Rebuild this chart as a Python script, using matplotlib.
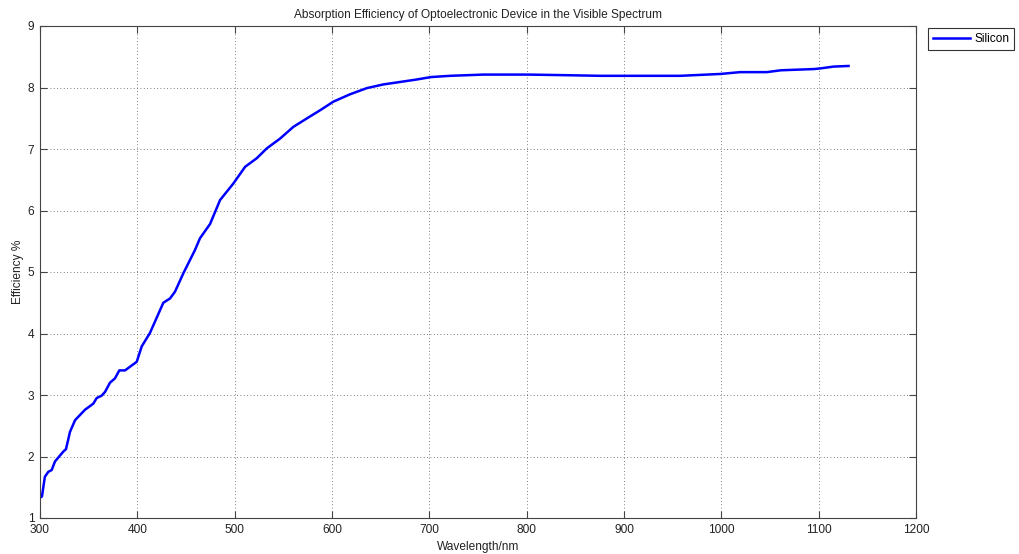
import numpy as np
import matplotlib.pyplot as plt

# values
wavelength = [300, 302, 305, 308.5, 312, 315.4, 324, 326.7, 330.8, 336, 346.2, 354.8,
              358.2, 363.4, 366.8, 371.9, 377, 381.5, 387.4, 392.5, 399.4, 404.5, 413,
              426.7, 433.6, 438.7, 447.3, 459.3, 464.4, 474.7, 485, 498.7, 510.7, 522.7,
              533, 546.7, 560.3, 577.5, 587.8, 601.4, 618.6, 635.8, 652.8, 670, 687,
              701.9, 721.4, 755.6, 801.8, 841.3, 875.5, 957.8, 998.9, 1019.4, 1046.8,
              1061.2, 1095.3, 1101.6, 1115.3, 1130.7]
efficiency = [1.33, 1.35, 1.67, 1.75, 1.78, 1.92, 2.08, 2.12, 2.40, 2.59, 2.76, 2.86,
              2.95, 2.99, 3.05, 3.20, 3.27, 3.40, 3.40, 3.46, 3.54, 3.79, 4.01,
              4.50, 4.57, 4.68, 4.98, 5.36, 5.55, 5.78, 6.17, 6.44, 6.71, 6.85,
              7.01, 7.17, 7.36, 7.53, 7.63, 7.77, 7.89, 7.99, 8.05, 8.09, 8.13,
              8.17, 8.19, 8.21, 8.21, 8.20, 8.19, 8.19, 8.22, 8.25, 8.25,
              8.28, 8.30, 8.31, 8.34, 8.35]
x_ticks = [300, 400, 500, 600, 700, 800, 900, 1000, 1100, 1200]
y_ticks = [1, 2, 3, 4, 5, 6, 7, 8, 9]

fs = 8.6
plt.rcParams['font.family'] = ['Liberation Sans', 'DejaVu Sans']
plt.rcParams['font.size'] = fs

fig = plt.figure(figsize=(10.2, 5.54), dpi=100)
ax = fig.add_axes([40 / 1020, 36 / 554, 876 / 1020, 492 / 554])

ax.plot(wavelength, efficiency, color='#0000ff', linewidth=1.8, label='Silicon')

ax.set_xlim(300, 1200)
ax.set_ylim(1, 9)
ax.set_xticks(x_ticks)
ax.set_yticks(y_ticks)
ax.tick_params(direction='in', top=True, right=True, length=5, labelsize=fs, pad=4,
               color='#444444', labelcolor='#222222')
for s in ax.spines.values():
    s.set_color('#444444')
ax.grid(True, linestyle=(0, (1, 3)), color='#555555', linewidth=0.6)

ax.set_title('Absorption Efficiency of Optoelectronic Device in the Visible Spectrum',
             fontsize=fs, pad=6, color='#222222')
ax.set_xlabel('Wavelength/nm', fontsize=fs, labelpad=4, color='#222222')
ax.set_ylabel('Efficiency %', fontsize=fs, labelpad=3, color='#222222')

leg = ax.legend(loc='upper left', bbox_to_anchor=(1.014, 0.995), fancybox=False,
                edgecolor='#333333', framealpha=1, fontsize=fs, handlelength=3.1,
                handletextpad=0.35, borderpad=0.4, borderaxespad=0)
leg.get_frame().set_linewidth(0.8)

fig.savefig('out.png', dpi=100)
